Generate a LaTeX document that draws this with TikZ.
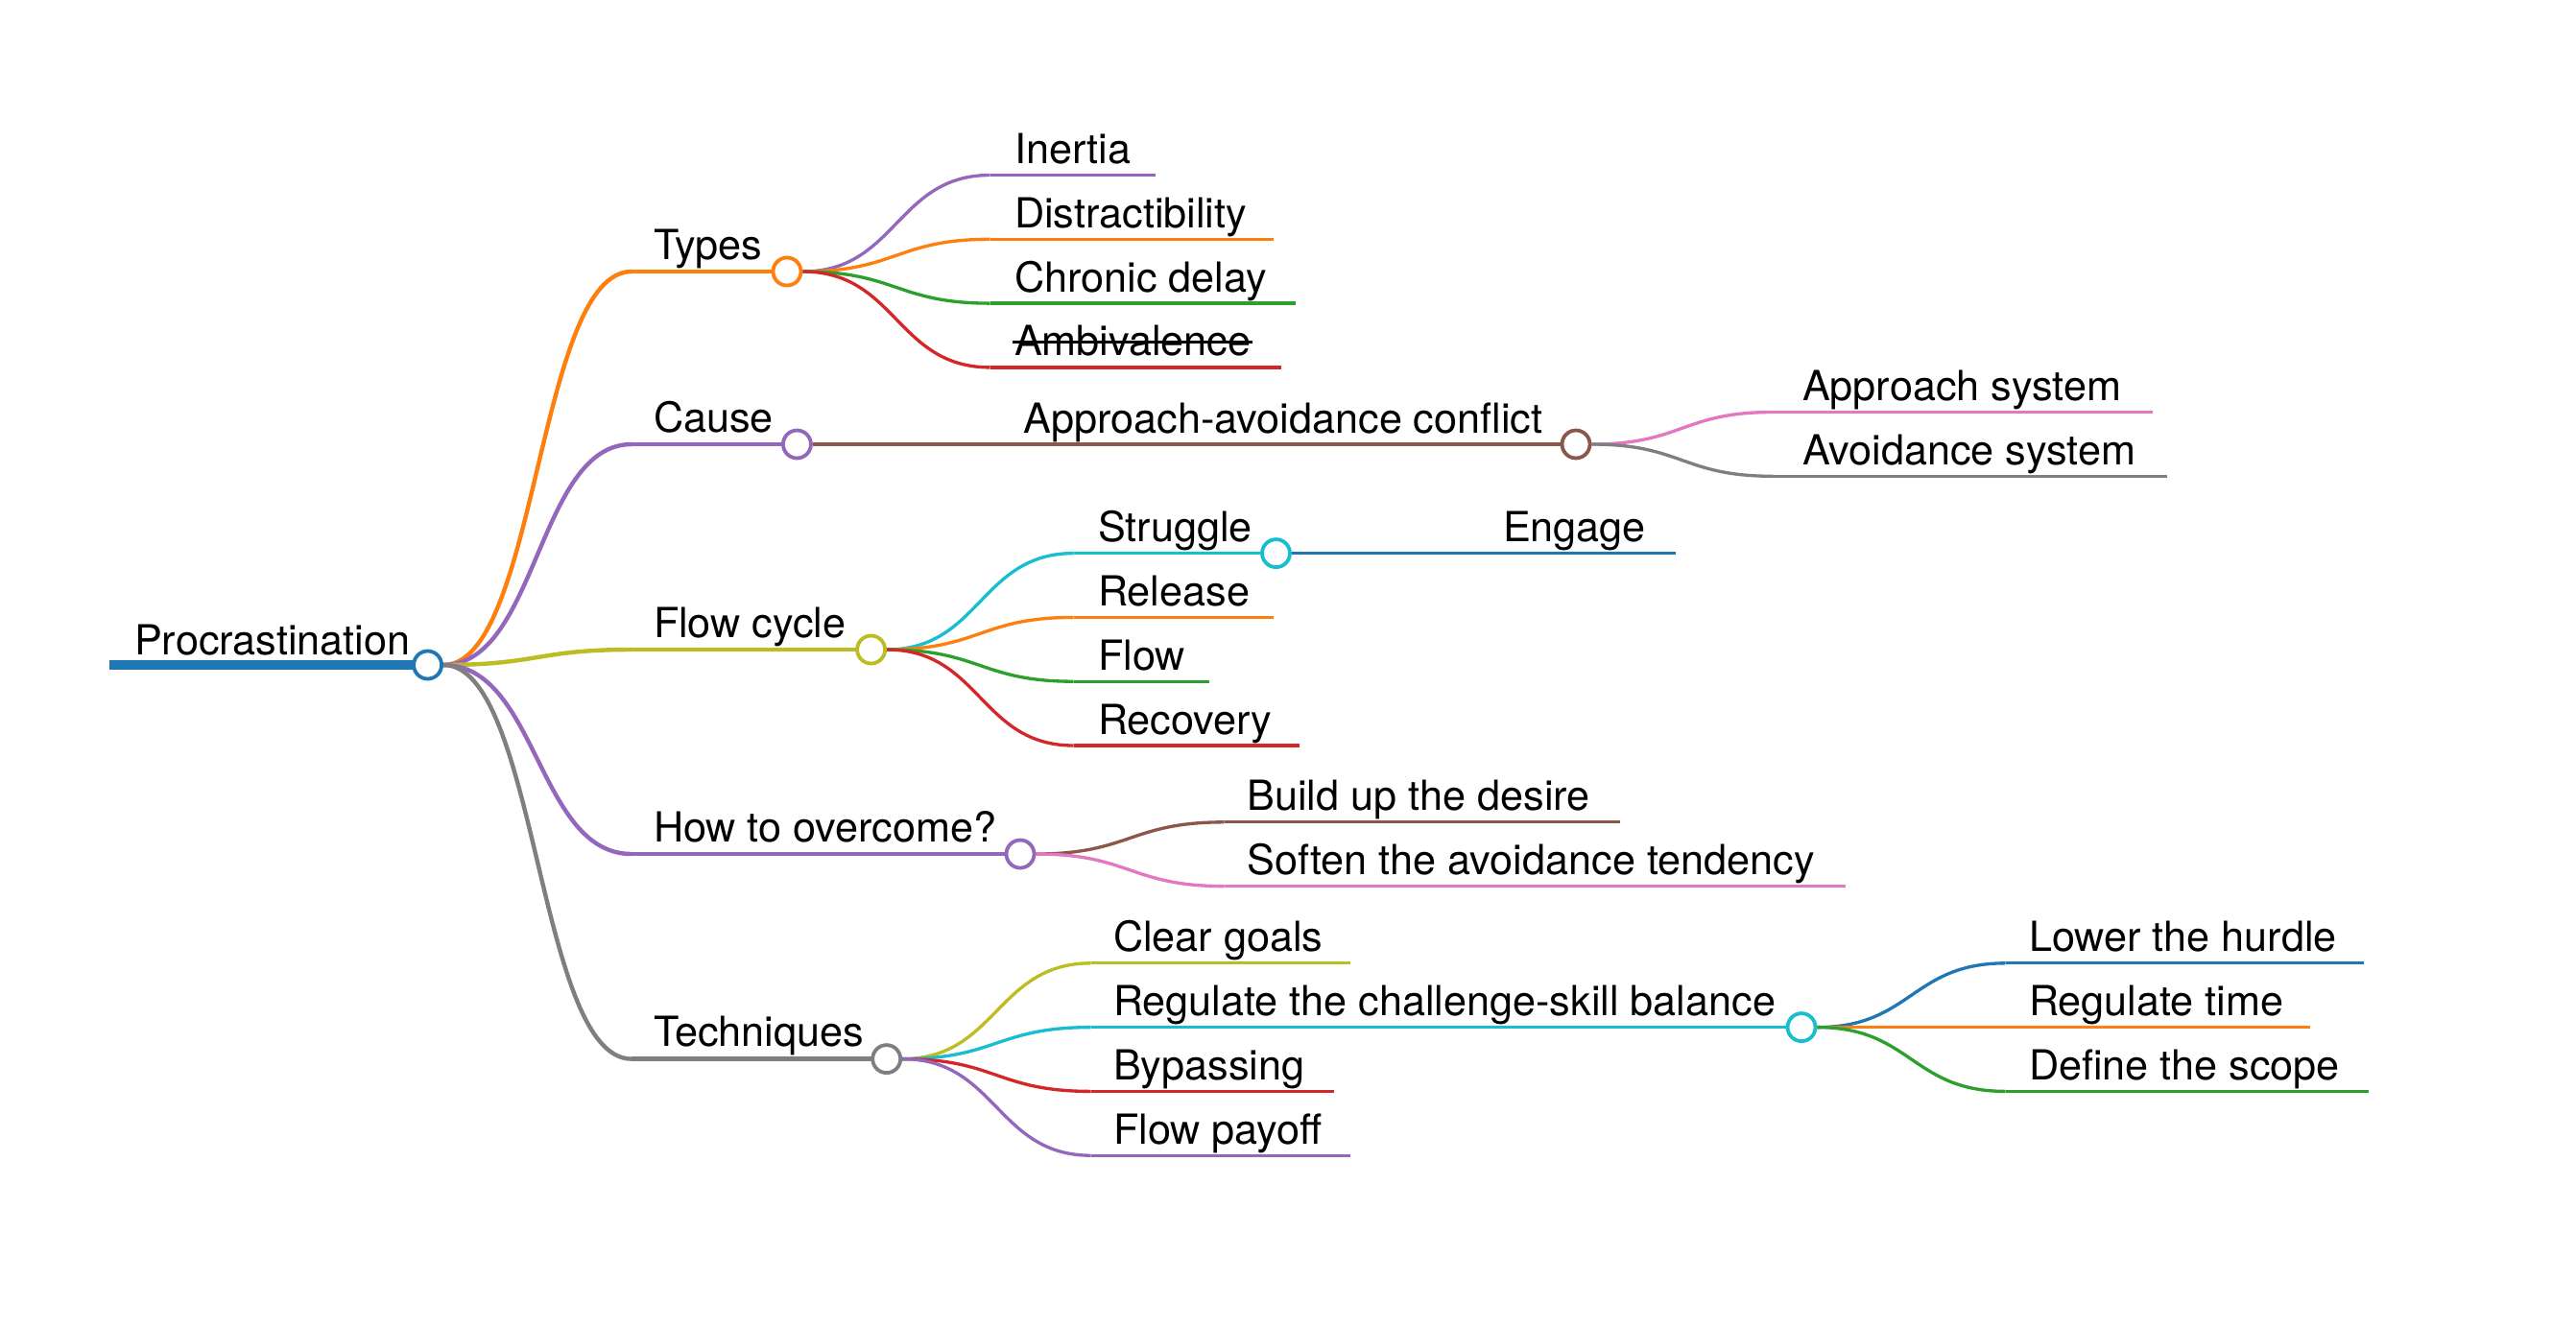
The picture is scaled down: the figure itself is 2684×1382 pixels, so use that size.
\documentclass[tikz,border=0pt]{standalone}
\usepackage{fontspec}
\setmainfont{TeX Gyre Heros}
\usetikzlibrary{calc}
\definecolor{mBlue}{HTML}{1F77B4}
\definecolor{mOrange}{HTML}{FF7F0E}
\definecolor{mGreen}{HTML}{2CA02C}
\definecolor{mRed}{HTML}{D62728}
\definecolor{mPurple}{HTML}{9467BD}
\definecolor{mBrown}{HTML}{8C564B}
\definecolor{mPink}{HTML}{E377C2}
\definecolor{mGray}{HTML}{7F7F7F}
\definecolor{mOlive}{HTML}{BCBD22}
\definecolor{mCyan}{HTML}{17BECF}
\pgfdeclarelayer{bg}
\pgfsetlayers{bg,main}
\newcommand\mmlink[3]{\draw[#1] let \p1=(#2), \p2=(#3) in (\p1) .. controls ({0.5*\x1+0.5*\x2},\y1) and ({0.5*\x1+0.5*\x2},\y2) .. (\p2);}
\begin{document}
\begin{tikzpicture}[x=0.25pt,y=-0.25pt,
  lbl/.style={anchor=base west, inner sep=0pt, outer sep=0pt, font=\fontsize{10.8pt}{12pt}\selectfont, text=black},
  dot/.style={circle, fill=white, line width=0.95pt, minimum size=7.25pt, inner sep=0pt},
  w0/.style={line width=2.5pt},
  w1/.style={line width=1.1pt},
  w2/.style={line width=0.83pt}]
\useasboundingbox (0,0) rectangle (2684,1382);

% ---------- root
\coordinate (root-s) at (114,693);
\node[dot, draw=mBlue] (root-dot) at (445.6,693) {};
\node[lbl] (root) at (140,682) {Procrastination};

% ---------- depth 1
\coordinate (types-s) at (658,283);
\node[dot, draw=mOrange] (types-dot) at (820,283) {};
\node[lbl] (types) at (681,270) {Types};

\coordinate (cause-s) at (658,463);
\node[dot, draw=mPurple] (cause-dot) at (830.4,463) {};
\node[lbl] (cause) at (681,450) {Cause};

\coordinate (flowc-s) at (658,677);
\node[dot, draw=mOlive] (flowc-dot) at (907.6,677) {};
\node[lbl] (flowc) at (681,664) {Flow cycle};

\coordinate (how-s) at (658,890);
\node[dot, draw=mPurple] (how-dot) at (1063,890) {};
\node[lbl] (how) at (681,877) {How to overcome?};

\coordinate (tech-s) at (658,1103.6);
\node[dot, draw=mGray] (tech-dot) at (923.7,1103.6) {};
\node[lbl] (tech) at (681,1090.6) {Techniques};

% ---------- Types children
\coordinate (inertia-s) at (1031.7,182.5);
\coordinate (inertia-e) at (1204,182.5);
\node[lbl] (inertia) at (1057,170.5) {Inertia};

\coordinate (distr-s) at (1031.7,249.3);
\coordinate (distr-e) at (1327,249.3);
\node[lbl] (distr) at (1057,237.3) {Distractibility};

\coordinate (chron-s) at (1031.7,316.1);
\coordinate (chron-e) at (1350,316.1);
\node[lbl] (chron) at (1057,304.1) {Chronic delay};

\coordinate (ambiv-s) at (1031.7,382.9);
\coordinate (ambiv-e) at (1335,382.9);
\node[lbl] (ambiv) at (1057,370.9) {Ambivalence};
\draw[line width=0.65pt, black] ([xshift=-0.5pt,yshift=3.6pt]ambiv.base west) -- ([xshift=0.5pt,yshift=3.6pt]ambiv.base east);

% ---------- Cause child
\coordinate (aac-s) at (1043,463);
\node[dot, draw=mBrown] (aac-dot) at (1642,463) {};
\node[lbl] (aac) at (1066.5,451) {Approach-avoidance conflict};

\coordinate (appr-s) at (1847,429.5);
\coordinate (appr-e) at (2243,429.5);
\node[lbl] (appr) at (1878,417.5) {Approach system};

\coordinate (avoid-s) at (1847,496.3);
\coordinate (avoid-e) at (2258,496.3);
\node[lbl] (avoid) at (1878,484.3) {Avoidance system};

% ---------- Flow cycle children
\coordinate (strug-s) at (1118.7,576.6);
\node[dot, draw=mCyan] (strug-dot) at (1329.5,576.6) {};
\node[lbl] (strug) at (1144,564.6) {Struggle};

\coordinate (engage-s) at (1543,576.6);
\coordinate (engage-e) at (1746.4,576.6);
\node[lbl] (engage) at (1566,564.6) {Engage};

\coordinate (release-s) at (1118.7,643.4);
\coordinate (release-e) at (1327,643.4);
\node[lbl] (release) at (1144,631.4) {Release};

\coordinate (flow-s) at (1118.7,710.2);
\coordinate (flow-e) at (1260,710.2);
\node[lbl] (flow) at (1144,698.2) {Flow};

\coordinate (recov-s) at (1118.7,777);
\coordinate (recov-e) at (1353.6,777);
\node[lbl] (recov) at (1144,765) {Recovery};

% ---------- How children
\coordinate (build-s) at (1275.5,856.8);
\coordinate (build-e) at (1688,856.8);
\node[lbl] (build) at (1299.5,844.8) {Build up the desire};

\coordinate (soften-s) at (1275.5,923.6);
\coordinate (soften-e) at (1922.8,923.6);
\node[lbl] (soften) at (1299.5,911.6) {Soften the avoidance tendency};

% ---------- Techniques children
\coordinate (clear-s) at (1136.6,1003.8);
\coordinate (clear-e) at (1407,1003.8);
\node[lbl] (clear) at (1160,991.8) {Clear goals};

\coordinate (regul-s) at (1136.6,1070.6);
\node[dot, draw=mCyan] (regul-dot) at (1877,1070.6) {};
\node[lbl] (regul) at (1160,1058.6) {Regulate the challenge-skill balance};

\coordinate (bypass-s) at (1136.6,1137.4);
\coordinate (bypass-e) at (1390,1137.4);
\node[lbl] (bypass) at (1160,1125.4) {Bypassing};

\coordinate (payoff-s) at (1136.6,1204.2);
\coordinate (payoff-e) at (1407,1204.2);
\node[lbl] (payoff) at (1160,1192.2) {Flow payoff};

% ---------- Regulate children
\coordinate (lower-s) at (2089.7,1003.8);
\coordinate (lower-e) at (2463,1003.8);
\node[lbl] (lower) at (2114,991.8) {Lower the hurdle};

\coordinate (regtime-s) at (2089.7,1070.6);
\coordinate (regtime-e) at (2406.5,1070.6);
\node[lbl] (regtime) at (2114,1058.6) {Regulate time};

\coordinate (scope-s) at (2089.7,1137.4);
\coordinate (scope-e) at (2467.7,1137.4);
\node[lbl] (scope) at (2114,1125.4) {Define the scope};

% ---------- connectors (behind the dots)
\begin{pgfonlayer}{bg}
\draw[w0,mBlue] (root-s) -- (root-dot.center);

\mmlink{w1,mOrange}{root-dot.east}{types-s}
\draw[w1,mOrange] (types-s) -- (types-dot.center);
\mmlink{w1,mPurple}{root-dot.east}{cause-s}
\draw[w1,mPurple] (cause-s) -- (cause-dot.center);
\mmlink{w1,mOlive}{root-dot.east}{flowc-s}
\draw[w1,mOlive] (flowc-s) -- (flowc-dot.center);
\mmlink{w1,mPurple}{root-dot.east}{how-s}
\draw[w1,mPurple] (how-s) -- (how-dot.center);
\mmlink{w1,mGray}{root-dot.east}{tech-s}
\draw[w1,mGray] (tech-s) -- (tech-dot.center);

\mmlink{w2,mPurple}{types-dot.east}{inertia-s}
\draw[w2,mPurple] (inertia-s) -- (inertia-e);
\mmlink{w2,mOrange}{types-dot.east}{distr-s}
\draw[w2,mOrange] (distr-s) -- (distr-e);
\mmlink{w2,mGreen}{types-dot.east}{chron-s}
\draw[w2,mGreen] (chron-s) -- (chron-e);
\mmlink{w2,mRed}{types-dot.east}{ambiv-s}
\draw[w2,mRed] (ambiv-s) -- (ambiv-e);

\mmlink{w2,mBrown}{cause-dot.east}{aac-s}
\draw[w2,mBrown] (aac-s) -- (aac-dot.center);
\mmlink{w2,mPink}{aac-dot.east}{appr-s}
\draw[w2,mPink] (appr-s) -- (appr-e);
\mmlink{w2,mGray}{aac-dot.east}{avoid-s}
\draw[w2,mGray] (avoid-s) -- (avoid-e);

\mmlink{w2,mCyan}{flowc-dot.east}{strug-s}
\draw[w2,mCyan] (strug-s) -- (strug-dot.center);
\mmlink{w2,mBlue}{strug-dot.east}{engage-s}
\draw[w2,mBlue] (engage-s) -- (engage-e);
\mmlink{w2,mOrange}{flowc-dot.east}{release-s}
\draw[w2,mOrange] (release-s) -- (release-e);
\mmlink{w2,mGreen}{flowc-dot.east}{flow-s}
\draw[w2,mGreen] (flow-s) -- (flow-e);
\mmlink{w2,mRed}{flowc-dot.east}{recov-s}
\draw[w2,mRed] (recov-s) -- (recov-e);

\mmlink{w2,mBrown}{how-dot.east}{build-s}
\draw[w2,mBrown] (build-s) -- (build-e);
\mmlink{w2,mPink}{how-dot.east}{soften-s}
\draw[w2,mPink] (soften-s) -- (soften-e);

\mmlink{w2,mOlive}{tech-dot.east}{clear-s}
\draw[w2,mOlive] (clear-s) -- (clear-e);
\mmlink{w2,mCyan}{tech-dot.east}{regul-s}
\draw[w2,mCyan] (regul-s) -- (regul-dot.center);
\mmlink{w2,mRed}{tech-dot.east}{bypass-s}
\draw[w2,mRed] (bypass-s) -- (bypass-e);
\mmlink{w2,mPurple}{tech-dot.east}{payoff-s}
\draw[w2,mPurple] (payoff-s) -- (payoff-e);

\mmlink{w2,mBlue}{regul-dot.east}{lower-s}
\draw[w2,mBlue] (lower-s) -- (lower-e);
\mmlink{w2,mOrange}{regul-dot.east}{regtime-s}
\draw[w2,mOrange] (regtime-s) -- (regtime-e);
\mmlink{w2,mGreen}{regul-dot.east}{scope-s}
\draw[w2,mGreen] (scope-s) -- (scope-e);
\end{pgfonlayer}
\end{tikzpicture}
\end{document}
